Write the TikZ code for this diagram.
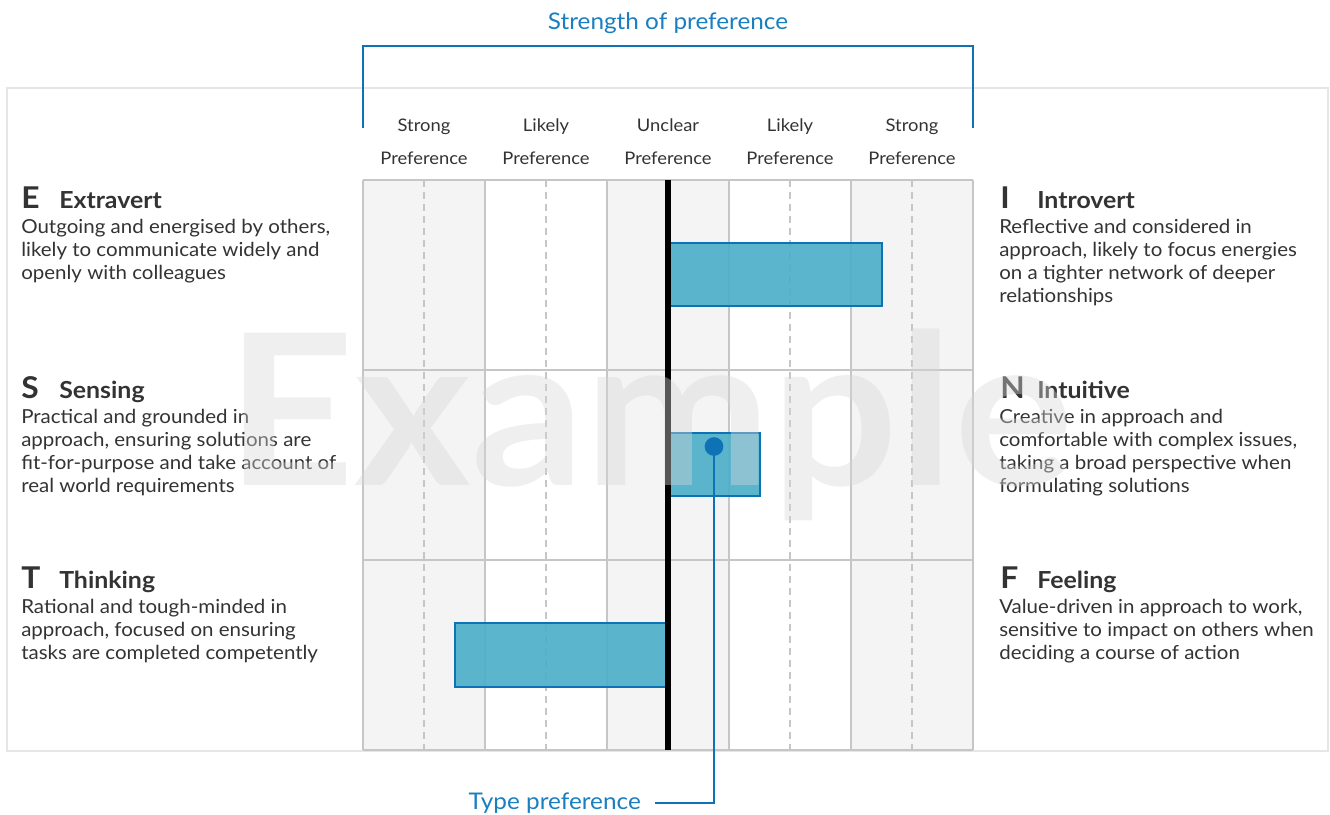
\documentclass[tikz,border=0pt]{standalone}
\usepackage{fontspec}
\setmainfont{Lato}[FakeStretch=1.06]
\definecolor{txt}{HTML}{333333}
\definecolor{blu}{HTML}{1A7FC1}
\definecolor{blul}{HTML}{0E72B6}
\definecolor{barfill}{HTML}{4AAEC8}
\definecolor{gridc}{HTML}{C6C6C6}
\definecolor{colbg}{HTML}{F4F4F4}
\definecolor{framec}{HTML}{E6E6E6}
\definecolor{wm}{HTML}{D7D7D7}
\begin{document}
\begin{tikzpicture}[x=0.75pt,y=-0.75pt,
  desc/.style={anchor=base west, inner sep=0pt, text=txt, font=\fontsize{14.5}{17}\selectfont},
  big/.style={anchor=base west, inner sep=0pt, text=txt, font=\fontsize{22.5}{24}\selectfont\bfseries},
  tname/.style={anchor=base west, inner sep=0pt, text=txt, font=\fontsize{17.6}{19}\selectfont\bfseries},
  colhead/.style={anchor=base, inner sep=0pt, text=txt, font=\fontsize{13}{15}\selectfont},
  bluetext/.style={inner sep=0pt, text=blu, font=\fontsize{17.2}{19}\selectfont},
  gridline/.style={draw=gridc, line width=1.8pt},
  dashline/.style={draw=gridc, line width=1.5pt, dash pattern=on 5pt off 4pt},
  bar/.style={draw=blul, line width=1.5pt, fill=barfill, fill opacity=0.9},
  conn/.style={draw=blul, line width=1.6pt},
]
\useasboundingbox (0,0) rectangle (1330,814);
\fill[white] (0,0) rectangle (1330,814);
\draw[framec, line width=2pt] (7,88) rectangle (1328,751);
% shaded columns
\foreach \x in {363,607,851} \fill[colbg] (\x,180) rectangle ++(122,570);
% dashed mid lines
\foreach \x in {424,546,790,912} \draw[dashline] (\x,180) -- (\x,750);
% grid
\foreach \x in {363,485,607,729,851,973} \draw[gridline] (\x,180) -- (\x,750);
\foreach \y in {180,370,560,750} \draw[gridline] (363,\y) -- (973,\y);
% bars
\draw[bar] (670,243) rectangle (882,306);
\draw[bar] (670,433) rectangle (760,496);
\draw[bar] (455,623) rectangle (667,687);
% centre line
\draw[black, line width=4pt] (668,180) -- (668,750);
% bracket
\draw[conn] (363,128) -- (363,46) -- (973,46) -- (973,128);
\node[bluetext, anchor=base] (title) at (668,29.5) {Strength of preference};
% column headers
\foreach \x/\a [count=\i] in {424/Strong,546/Likely,668/Unclear,790/Likely,912/Strong}{
  \node[colhead] (ha\i) at (\x,131.5) {\a};
  \node[colhead] (hb\i) at (\x,164) {Preference};
}
% type preference
\node[circle, fill=blul, inner sep=0pt, minimum size=14pt] (dot) at (714,446.5) {};
\node[bluetext, anchor=base east] (tp) at (641,809) {Type preference};
\coordinate (tpEnd) at (655,803);
\draw[conn] (dot.center) |- (tpEnd);
% left texts
\node[big] (E) at (21,208) {E}; \node[tname] (En) at (59,208) {Extravert};
\foreach \t [count=\i] in {{Outgoing and energised by others,},{likely to communicate widely and},{openly with colleagues}}
  \node[desc] (Ed\i) at (21,{233.5+23*(\i-1)}) {\t};
\node[big] (S) at (21,398) {S}; \node[tname] (Sn) at (59,398) {Sensing};
\foreach \t [count=\i] in {{Practical and grounded in},{approach, ensuring solutions are},{fit-for-purpose and take account of},{real world requirements}}
  \node[desc] (Sd\i) at (21,{423.5+23*(\i-1)}) {\t};
\node[big] (T) at (21,588) {T}; \node[tname] (Tn) at (59,588) {Thinking};
\foreach \t [count=\i] in {{Rational and tough-minded in},{approach, focused on ensuring},{tasks are completed competently}}
  \node[desc] (Td\i) at (21,{613.5+23*(\i-1)}) {\t};
% right texts
\node[big] (I) at (1000,208) {I}; \node[tname] (In) at (1037,208) {Introvert};
\foreach \t [count=\i] in {{Reflective and considered in},{approach, likely to focus energies},{on a tighter network of deeper},{relationships}}
  \node[desc] (Id\i) at (999,{233.5+23*(\i-1)}) {\t};
\node[big] (N) at (1000,398) {N}; \node[tname] (Nn) at (1037,398) {Intuitive};
\foreach \t [count=\i] in {{Creative in approach and},{comfortable with complex issues,},{taking a broad perspective when},{formulating solutions}}
  \node[desc] (Nd\i) at (999,{423.5+23*(\i-1)}) {\t};
\node[big] (F) at (1000,588) {F}; \node[tname] (Fn) at (1037,588) {Feeling};
\foreach \t [count=\i] in {{Value-driven in approach to work,},{sensitive to impact on others when},{deciding a course of action}}
  \node[desc] (Fd\i) at (999,{613.5+23*(\i-1)}) {\t};
% watermark
\node[anchor=base west, inner sep=0pt, text=wm, opacity=0.4, font=\fontsize{158}{160}\selectfont\bfseries] (wmk) at (226,485) {Example};
\end{tikzpicture}
\end{document}
